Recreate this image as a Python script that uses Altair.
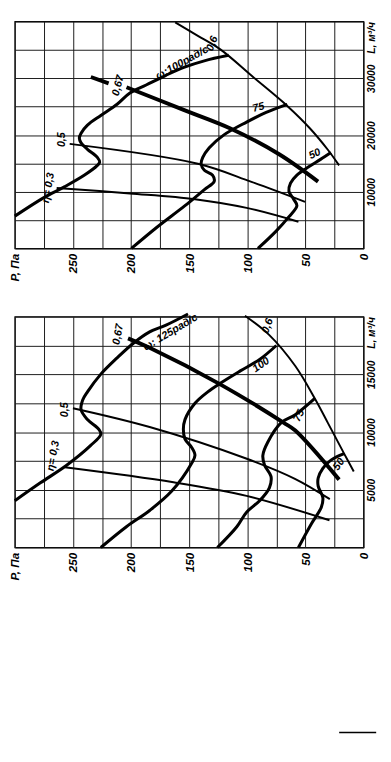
import altair as alt
import pandas as pd

# ---------------- data ----------------
P_TITLE = "P, Па"
L_TITLE = "L, м³/ч"
P_MAX = 300
P_GRID = [0, 25, 50, 75, 100, 125, 150, 175, 200, 225, 250, 275, 300]
P_LABELS = [0, 50, 100, 150, 200, 250]

TOP_L_MAX = 40000
TOP_L_GRID = [0, 5000, 10000, 15000, 20000, 25000, 30000, 35000, 40000]
TOP_L_LABELS = [10000, 20000, 30000]
BOT_L_MAX = 20000
BOT_L_GRID = [0, 2500, 5000, 7500, 10000, 12500, 15000, 17500, 20000]
BOT_L_LABELS = [5000, 10000, 15000]

# top panel (omega = 100, 75, 50 rad/s)
TOP_W100_P = [300, 275, 257, 240, 229, 227, 229, 237.5, 243, 244.5, 243, 237.5, 226, 212, 201, 187, 170, 154, 137, 116]
TOP_W100_L = [5700, 8970, 10900, 12940, 14640, 15200, 16050, 17480, 18600, 19450, 20300, 21730, 23440, 25410, 27400, 28810, 30520, 31950, 33070, 34040]
TOP_W75_P = [199.7, 178.8, 153.6, 136.9, 128.5, 129.9, 136.9, 139.7, 138.3, 132.7, 120.1, 100.6, 83.8, 65.6]
TOP_W75_L = [0, 3570, 7540, 10380, 11790, 12930, 13780, 14910, 16050, 17750, 20020, 22280, 23980, 25400]
TOP_W50_P = [90.8, 75.4, 64.3, 57.3, 60.1, 64.2, 62.8, 57.3, 47.5, 37, 28]
TOP_W50_L = [0, 3010, 5560, 7540, 8680, 10090, 11510, 12930, 14350, 15700, 16900]
TOP_E03_P = [264, 201, 145, 100.6, 56]
TOP_E03_L = [10670, 9700, 8680, 7150, 4710]
TOP_E05_P = [252.8, 142.5, 96.4, 50.3]
TOP_E05_L = [18430, 14930, 11740, 8220]
TOP_E067_P = [203.9, 156.4, 114.5, 72.6, 39.1]
TOP_E067_L = [28410, 24550, 21150, 16610, 11790]
TOP_E067B_P = [234.6, 219.3]
TOP_E067B_L = [30220, 29090]
TOP_E06_P = [162, 142.5, 122.9, 95, 65.6, 46, 30.7, 21]
TOP_E06_L = [39860, 37480, 35040, 30220, 25120, 21150, 17400, 14640]

TOP_TEXT = ["ω:100рад/с", "0,6", "0,67", "0,5", "η= 0,3", "75", "50"]
TOP_TEXT_P = [156, 130, 211, 259, 271, 90.3, 41.9]
TOP_TEXT_L = [32700, 36100, 28710, 19180, 10670, 24800, 16630]
TOP_TEXT_ANGLE = [331, 290, 285, 270, 280, 345, 335]

# bottom panel (omega = 125, 100, 75, 50 rad/s)
BOT_W125_P = [300, 278, 255.7, 234.7, 226, 227.7, 237.5, 243, 241.6, 237.5, 226, 212, 198, 184, 170.4, 151]
BOT_W125_L = [4050, 5600, 7100, 8840, 9820, 10240, 11080, 11930, 12770, 13480, 15020, 16430, 17700, 18680, 19240, 20230]
BOT_W100_P = [226, 204, 184, 165, 148, 145, 148, 153.6, 155, 153.6, 145, 134, 124, 106, 89.4, 75]
BOT_W100_L = [0, 1800, 3210, 4890, 7280, 7990, 8690, 9390, 10240, 11080, 12490, 13480, 14180, 15300, 16290, 17500]
BOT_W75_P = [125.7, 109, 100.6, 89.4, 81, 79.6, 85.2, 86.6, 82.4, 71, 58.7, 41.9]
BOT_W75_L = [0, 1800, 3060, 4050, 5170, 6160, 7150, 7990, 9120, 10800, 11500, 12910]
BOT_W50_P = [56, 44.7, 36.3, 35, 39, 39, 35, 28, 16.7]
BOT_W50_L = [0, 2080, 3490, 4330, 5320, 6020, 6860, 7570, 8130]
BOT_E03_P = [257, 163.5, 100.6, 29.3]
BOT_E03_L = [6950, 5650, 4470, 2360]
BOT_E05_P = [250, 184, 101, 59, 29]
BOT_E05_L = [12070, 10440, 7710, 5950, 4190]
BOT_E067_P = [202.6, 184, 124, 68.5, 58.7, 21]
BOT_E067_L = [18120, 17300, 14180, 10800, 10130, 5880]
BOT_E06_P = [102, 81, 58.7, 41.9, 30.7, 16.7, 8.4]
BOT_E06_L = [20080, 18400, 15720, 12910, 10800, 8130, 6580]

BOT_TEXT = ["ω: 125рад/с", "0,67", "0,6", "100", "0,5", "η= 0,3", "75", "50"]
BOT_TEXT_P = [166, 211, 82.4, 88, 256.5, 266.8, 55.3, 21]
BOT_TEXT_L = [18630, 18460, 19190, 15810, 11930, 7930, 11420, 7200]
BOT_TEXT_ANGLE = [329, 280, 290, 325, 270, 280, 295, 305]

FONT = "Liberation Sans Narrow, Liberation Sans, Arial, sans-serif"


def curves_df(curves):
    rows = []
    for name, ps, ls in curves:
        for i, (p, l) in enumerate(zip(ps, ls)):
            rows.append({"curve": name, "i": i, "P": p, "L": l})
    return pd.DataFrame(rows)


def panel(thick, heavy, thin, texts, lmax, lgrid, llabels, height):
    xenc = alt.X(
        "P:Q",
        scale=alt.Scale(domain=[0, P_MAX], reverse=True, nice=False, zero=False),
        axis=alt.Axis(
            values=P_GRID, format="d", title=None, orient="bottom",
            labelExpr=f"datum.value == {P_MAX} ? '{P_TITLE}' : (indexof({P_LABELS}, datum.value) >= 0 ? datum.label : '')",
            labelAngle=270, labelAlign="right", labelBaseline="middle",
            labelPadding=5, labelFontSize=12,
        ),
    )
    yenc = alt.Y(
        "L:Q",
        scale=alt.Scale(domain=[0, lmax], nice=False, zero=False),
        axis=alt.Axis(
            values=lgrid, format="d", title=None, orient="right",
            labelExpr=f"datum.value == {lmax} ? '{L_TITLE}' : (indexof({llabels}, datum.value) >= 0 ? datum.label : '')",
            labelAngle=270,
            labelAlign={"condition": {"test": f"datum.value == {lmax}", "value": "right"}, "value": "center"},
            labelBaseline="top", labelPadding=3, labelFontSize=10.5,
        ),
    )
    layers = []
    for df_curves, w in ((thin, 2.0), (thick, 3.1), (heavy, 4.0)):
        layers.append(
            alt.Chart(curves_df(df_curves))
            .mark_line(color="black", strokeWidth=w, interpolate="catmull-rom")
            .encode(x=xenc, y=yenc, detail="curve:N", order="i:Q")
        )
    tdf = pd.DataFrame({"text": texts[0], "P": texts[1], "L": texts[2], "angle": texts[3]})
    layers.append(
        alt.Chart(tdf)
        .mark_text(font=FONT, fontSize=11, fontWeight="bold", fontStyle="italic", color="black")
        .encode(x=xenc, y=yenc, text="text:N", angle=alt.Angle("angle:Q", scale=None))
    )
    return alt.layer(*layers).properties(width=358, height=height)


top = panel(
    thick=[("w100", TOP_W100_P, TOP_W100_L), ("w75", TOP_W75_P, TOP_W75_L), ("w50", TOP_W50_P, TOP_W50_L)],
    heavy=[("e067", TOP_E067_P, TOP_E067_L), ("e067b", TOP_E067B_P, TOP_E067B_L)],
    thin=[("e03", TOP_E03_P, TOP_E03_L), ("e05", TOP_E05_P, TOP_E05_L), ("e06", TOP_E06_P, TOP_E06_L)],
    texts=(TOP_TEXT, TOP_TEXT_P, TOP_TEXT_L, TOP_TEXT_ANGLE),
    lmax=TOP_L_MAX, lgrid=TOP_L_GRID, llabels=TOP_L_LABELS, height=233,
)

bottom_panel = panel(
    thick=[("w125", BOT_W125_P, BOT_W125_L), ("w100", BOT_W100_P, BOT_W100_L),
           ("w75", BOT_W75_P, BOT_W75_L), ("w50", BOT_W50_P, BOT_W50_L)],
    heavy=[("e067", BOT_E067_P, BOT_E067_L)],
    thin=[("e03", BOT_E03_P, BOT_E03_L), ("e05", BOT_E05_P, BOT_E05_L), ("e06", BOT_E06_P, BOT_E06_L)],
    texts=(BOT_TEXT, BOT_TEXT_P, BOT_TEXT_L, BOT_TEXT_ANGLE),
    lmax=BOT_L_MAX, lgrid=BOT_L_GRID, llabels=BOT_L_LABELS, height=237,
)

# short stray stroke printed near the page bottom
stroke = alt.Chart(pd.DataFrame({"k": [0]})).mark_rule(color="black", strokeWidth=1.5).encode(
    x=alt.value(333), x2=alt.value(371), y=alt.value(427)
)
bottom = alt.layer(bottom_panel, stroke)

chart = (
    alt.vconcat(top, bottom, spacing=70, bounds="flush")
    .properties(padding={"left": 0, "top": 0, "right": 5, "bottom": 5}, background="white")
    .configure_view(stroke="black", strokeWidth=1.3)
    .configure_axis(
        grid=True, gridColor="#1a1a1a", gridWidth=1, gridOpacity=1,
        domain=False, ticks=False,
        labelFont=FONT, labelFontWeight="bold", labelFontStyle="italic", labelColor="black",
        labelOverlap=False, labelFlush=False, labelBound=False,
    )
)

chart.save("out.html", embed_options={"renderer": "svg", "actions": False})
